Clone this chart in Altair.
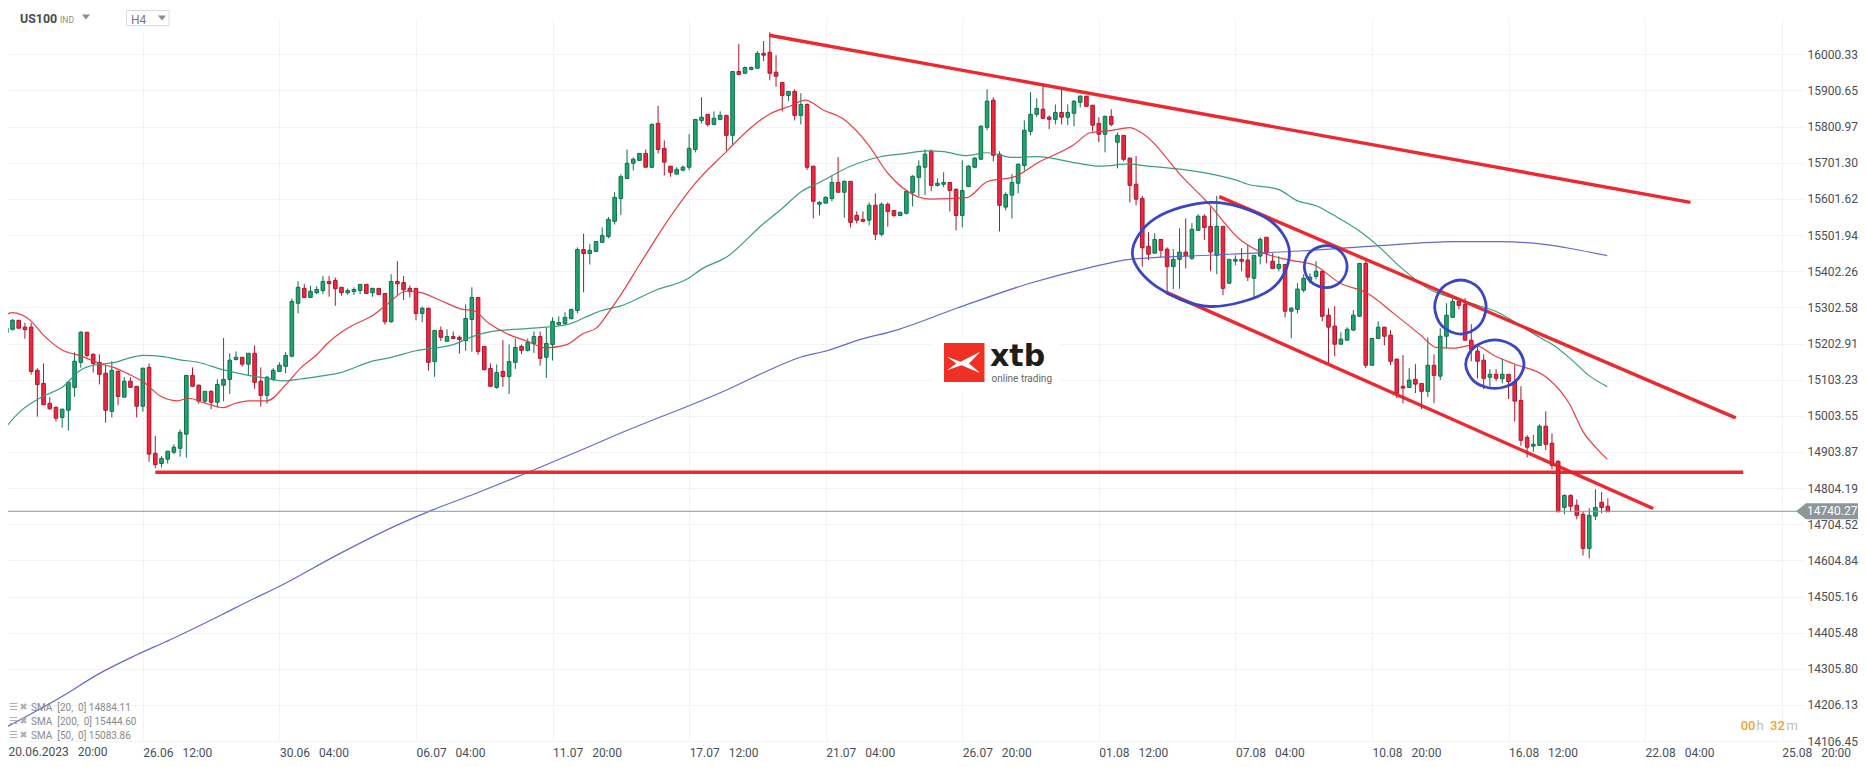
import altair as alt
import pandas as pd

direction = (
    "GGRRRRRRRG" "GGGRRRRGRG" "RRGRRGGGGG" "RRGRGGGGRG" "RRGGGGGGRG" "GGRRRGGGRG"
    "RRGRRRRGRG" "RGRRGGRRRG" "RGGRGGRGGG" "GGGRGGGGGG" "GGGRGRRRGG" "GGGRGGRGRG"
    "GGRRRRGRGR" "RGGGRGRRRG" "RGRRGGGGGR" "GGRRGGGGGR" "RGGGGGGRRG" "RGGGRRRGRG"
    "RRRRRGRRGG" "RGGRRGRGGR" "RGGRRGRGGG" "GGRRRGGGGR" "GGRRRRGRRG" "RGGGRRRRRG"
    "RGRRRRGGRR" "RGRRRGGRR"
)
high = [
15286,15270,15267,15260,15260,15135,15148,15055,15029,15022,
15096,15179,15237,15234,15176,15173,15143,15154,15129,15110,
15110,15085,15135,15148,14948,14892,14906,14925,14966,15115,
15137,15090,15071,15074,15104,15218,15176,15181,15165,15176,
15198,15137,15113,15135,15151,15179,15327,15375,15367,15362,
15361,15389,15389,15385,15358,15355,15358,15366,15366,15355,
15355,15341,15394,15430,15389,15363,15355,15305,15302,15239,
15250,15242,15236,15225,15311,15358,15330,15195,15148,15145,
15212,15200,15217,15200,15217,15236,15236,15247,15275,15278,
15289,15297,15468,15506,15477,15486,15523,15552,15620,15670,
15738,15716,15727,15738,15810,15858,15763,15692,15689,15694,
15780,15821,15882,15835,15843,15843,15832,15953,16029,15967,
15967,16009,16037,16061,15998,15923,15898,15904,15893,15865,
15692,15595,15609,15664,15717,15653,15650,15567,15567,15592,
15617,15592,15592,15570,15565,15625,15667,15708,15738,15738,
15658,15675,15647,15631,15708,15694,15717,15805,15904,15882,
15733,15620,15670,15700,15818,15896,15879,15920,15832,15862,
15909,15862,15874,15887,15885,15860,15827,15832,15849,15785,
15777,15716,15720,15610,15510,15507,15490,15468,15463,15521,
15548,15535,15559,15559,15579,15610,15526,15435,15446,15466,
15474,15446,15496,15496,15452,15444,15421,15303,15369,15394,
15397,15430,15406,15300,15306,15234,15248,15295,15424,15430,
15217,15264,15248,15240,15160,15171,15135,15146,15093,15220,
15173,15245,15314,15328,15328,15328,15256,15193,15173,15132,
15132,15162,15118,15144,15085,14950,14951,14980,15016,14955,
14881,14787,14787,14773,14740,14749,14801,14793,14776]
body_top = [
15245,15267,15267,15248,15248,15129,15093,15038,15027,15022,
15096,15154,15234,15234,15173,15151,15121,15129,15126,15099,
15099,15085,15135,15137,14900,14886,14906,14917,14958,15115,
15115,15088,15071,15071,15090,15104,15157,15165,15165,15176,
15176,15099,15110,15129,15143,15170,15319,15358,15355,15347,
15352,15374,15374,15377,15358,15349,15352,15366,15366,15355,
15355,15341,15374,15374,15371,15355,15355,15300,15300,15239,
15239,15222,15222,15220,15272,15330,15330,15195,15134,15123,
15126,15153,15192,15195,15206,15222,15222,15203,15264,15261,
15275,15297,15462,15462,15460,15484,15501,15545,15606,15663,
15700,15711,15727,15727,15807,15810,15741,15692,15683,15689,
15741,15821,15827,15835,15824,15832,15832,15953,15953,15964,
15964,16003,16003,16006,15951,15923,15898,15898,15862,15862,
15692,15592,15606,15647,15647,15650,15650,15556,15545,15584,
15584,15587,15587,15570,15565,15623,15664,15692,15725,15733,
15645,15647,15647,15628,15625,15692,15714,15802,15871,15874,
15725,15614,15647,15697,15791,15835,15851,15849,15827,15840,
15840,15840,15871,15885,15885,15860,15810,15829,15829,15777,
15777,15714,15642,15603,15471,15490,15490,15463,15435,15455,
15455,15518,15554,15554,15526,15526,15526,15435,15435,15435,
15433,15446,15490,15496,15430,15421,15421,15300,15353,15383,
15386,15402,15402,15281,15251,15215,15242,15281,15424,15424,
15217,15248,15248,15226,15160,15085,15102,15104,15093,15143,
15143,15223,15281,15319,15319,15311,15212,15182,15157,15118,
15118,15118,15118,15098,15046,14944,14925,14975,14975,14928,
14878,14784,14784,14757,14732,14729,14751,14765,14754]
body_bottom = [
15233,15242,15245,15241,15126,15090,15034,15023,14997,14999,
15019,15082,15151,15170,15148,15118,15019,15016,15057,15055,
15082,15030,15030,14898,14869,14872,14884,14903,14914,14953,
15085,15044,15044,15041,15041,15088,15104,15159,15146,15146,
15096,15060,15060,15104,15126,15140,15168,15314,15330,15330,
15343,15349,15368,15354,15343,15343,15346,15349,15341,15343,
15338,15263,15263,15368,15351,15346,15286,15286,15151,15153,
15220,15209,15217,15214,15211,15269,15181,15131,15085,15082,
15112,15112,15151,15184,15184,15203,15162,15165,15200,15255,
15258,15272,15294,15451,15451,15457,15482,15498,15540,15603,
15658,15700,15708,15689,15689,15738,15703,15675,15670,15681,
15689,15738,15818,15807,15807,15821,15777,15777,15945,15948,
15959,15962,15998,15948,15940,15887,15887,15832,15832,15689,
15595,15587,15590,15603,15620,15620,15537,15543,15540,15543,
15504,15504,15567,15556,15556,15562,15620,15661,15689,15639,
15639,15642,15625,15556,15556,15636,15689,15711,15799,15722,
15584,15579,15612,15645,15694,15788,15835,15824,15821,15821,
15827,15827,15838,15868,15857,15805,15780,15780,15807,15758,
15711,15639,15601,15467,15449,15452,15460,15415,15415,15435,
15446,15438,15515,15523,15455,15446,15355,15369,15430,15430,
15386,15383,15444,15452,15410,15410,15292,15292,15297,15350,
15377,15388,15278,15248,15201,15201,15212,15240,15278,15143,
15143,15217,15223,15154,15066,15080,15082,15091,15071,15071,
15115,15113,15223,15275,15308,15212,15187,15154,15107,15110,
15107,15106,15098,15044,14936,14917,14920,14922,14925,14867,
14739,14751,14754,14729,14638,14638,14727,14751,14739]
low = [
15231,15239,15245,15216,15117,15001,15033,15020,14988,14971,
14963,15056,15136,15165,15123,15090,14985,14999,15033,15055,
15082,14999,15015,14877,14859,14861,14872,14898,14891,14888,
15085,15037,15040,15022,15027,15044,15064,15156,15139,15115,
15078,15029,15037,15099,15126,15121,15165,15286,15330,15329,
15339,15339,15332,15307,15335,15337,15337,15339,15341,15332,
15338,15255,15260,15337,15323,15330,15267,15262,15128,15111,
15210,15209,15216,15175,15183,15180,15172,15128,15084,15078,
15084,15064,15133,15174,15181,15177,15142,15108,15156,15253,
15255,15269,15286,15344,15421,15457,15481,15493,15531,15557,
15658,15680,15708,15689,15686,15727,15666,15663,15670,15678,
15681,15730,15810,15801,15806,15821,15735,15752,15945,15948,
15956,15962,15981,15929,15911,15843,15872,15818,15807,15681,
15548,15556,15590,15595,15620,15550,15523,15534,15537,15529,
15488,15499,15525,15551,15554,15559,15581,15609,15612,15623,
15636,15634,15567,15515,15523,15634,15686,15711,15791,15705,
15512,15570,15548,15617,15680,15777,15828,15821,15794,15807,
15807,15805,15802,15854,15857,15788,15758,15730,15802,15686,
15705,15592,15584,15415,15433,15452,15440,15346,15353,15354,
15410,15433,15515,15488,15402,15394,15336,15369,15419,15402,
15375,15332,15421,15424,15408,15402,15275,15217,15286,15344,
15369,15380,15264,15149,15168,15201,15212,15237,15278,15135,
15143,15217,15198,15143,15052,15038,15080,15066,15022,15055,
15038,15102,15190,15275,15297,15212,15154,15107,15077,15084,
15099,15093,15050,14988,14921,14889,14904,14922,14909,14856,
14739,14732,14739,14718,14618,14610,14716,14735,14739]

sma20_bar = [0,1,3.9,6,9,12,15,17.3,20,22,24.8,27.5,29.4,31.8,35,36.6,39,42,45.2,47.4,50,51.6,54.3,57,58.8,61.2,64.4,66.6,69.8,73.5,75.2,77.8,80.5,83.8,87,90.2,93,95.1,97.2,98.9,102,105.9,111,116,119.8,123,126.3,128.7,131.6,134.9,138.9,141.8,144.5,148.8,154.7,158,162.5,166,171.9,174.6,177.8,181,182.6,189.9,193.4,198.8,202,206.8,210.6,214.9,219.2,223.5,227.8,230.4,233.1,236.4,240,242.8,248.1,251.9,254,256.2,257.9]
sma20_val = [15283,15288,15266,15226,15185,15169,15148,15137,15116,15098,15058,15045,15052,15040,15026,15036,15045,15045,15093,15135,15172,15201,15238,15263,15278,15309,15347,15344,15323,15297,15294,15258,15231,15210,15191,15199,15231,15246,15293,15335,15420,15525,15645,15732,15796,15836,15858,15874,15847,15821,15750,15677,15631,15601,15605,15649,15663,15700,15750,15784,15790,15798,15787,15654,15594,15489,15456,15433,15420,15369,15342,15286,15227,15192,15190,15199,15167,15147,15110,15034,14960,14914,14884]
sma50_bar = [0,2.2,6,9,12,14.3,17.3,20,22,25.3,28,30.7,35,39,42,44.7,47.4,50.6,53.7,59.1,61.8,66,72,75.8,77.9,85.4,90.3,93.5,95.6,98.9,104.8,109.6,112,116.1,122,124.7,128.1,131,135.9,140.8,144.5,148.3,151,154.7,158,162.2,166,173,176.2,181,182.6,198,200,204.9,207.9,211.1,213.8,218.1,220.8,224.5,229.4,233.1,236.9,240,243.3,247,249.2,251.9,255.1,257.9]
sma50_val = [14974,15015,15058,15082,15130,15144,15150,15164,15170,15167,15158,15152,15130,15115,15107,15100,15105,15113,15122,15155,15164,15183,15200,15226,15235,15246,15255,15277,15292,15306,15351,15380,15408,15442,15534,15571,15622,15647,15691,15718,15726,15734,15732,15721,15729,15716,15718,15699,15692,15698,15695,15654,15642,15628,15597,15582,15557,15512,15475,15415,15351,15328,15309,15291,15259,15220,15199,15162,15113,15084]
sma200_bar = [0,8.9,14.9,20.7,26.4,34.7,39.1,44.2,53.1,62.7,68.4,75.4,83.7,93.3,98.7,116.3,122.3,127.9,132.2,137,143.4,153.1,164.9,174,181,194.5,208.4,221.3,233.1,240.6,248.4,252,257.9]
sma200_val = [14145,14229,14292,14342,14386,14455,14493,14535,14618,14700,14742,14788,14845,14914,14954,15077,15125,15165,15183,15211,15240,15300,15369,15410,15435,15447,15458,15473,15484,15484,15475,15465,15445]

trend_lines = {
    "top": ([122.9, 271.3], [16053, 15592]),
    "support": ([24.0, 279.8], [14848, 14848]),
    "channel_low": ([186.9, 265.3], [15344, 14748]),
    "channel_high": ([195.4, 278.6], [15608, 14998]),
}
ellipses = {
    "a": ([194.2,203.05,206.7,203.6,193.9,185.3,181.4,185.1], [15592,15548,15456,15351,15305,15360,15452,15548]),
    "b": ([212.6,215,216,215,212.6,210.1,209.1,210.1], [15473,15456,15415,15374,15357,15374,15415,15456]),
    "c": ([234.3,237.2,238.4,237.2,234.3,231.3,230.1,231.3], [15378,15356,15304,15251,15229,15251,15304,15356]),
    "d": ([239.8,243.1,244.5,243.1,239.8,236.5,235.1,236.5], [15213,15193,15146,15098,15079,15098,15146,15193]),
}
y_ticks = [16000.33,15900.65,15800.97,15701.30,15601.62,15501.94,15402.26,15302.58,15202.91,15103.23,
           15003.55,14903.87,14804.19,14704.52,14604.84,14505.16,14405.48,14305.80,14206.13,14106.45]
nb = "\u00a0"
x_labels = ["20.06.2023","26.06","30.06","06.07","11.07","17.07","21.07","26.07","01.08","07.08","10.08","16.08","22.08","25.08"]
x_times = ["20:00","12:00","04:00","04:00","20:00","12:00","04:00","20:00","12:00","04:00","20:00","12:00","04:00","20:00"]
x_bars = [22 * k for k in range(14)]
last_price = 14740.27
legend_rows = [("SMA  [20,  0] 14884.11", 707.5), ("SMA  [200,  0] 15444.60", 722), ("SMA  [50,  0] 15083.86", 735.5)]

GREEN, GREEN_D = "#1fa56f", "#0f6e4a"
RED, RED_D = "#f0263f", "#a8182c"
FONT = "Roboto"

candles = pd.DataFrame({"i": range(len(high)), "high": high, "low": low, "top": body_top,
                        "bottom": body_bottom, "d": list(direction)})
xs = alt.Scale(domain=[0.274, 289.6], nice=False, zero=False, padding=0)
ys = alt.Scale(domain=[14104.1, 16100.5], nice=False, zero=False, padding=0)

lab_list = "[''," + ",".join("'" + a + nb * 3 + b + "'" for a, b in list(zip(x_labels, x_times))[1:]) + "]"
XAX = alt.Axis(values=x_bars, labelExpr=lab_list + "[round(datum.value/22)]", grid=True, gridColor="#f2f3f4",
               domain=False, ticks=False, labelAlign="left", labelBaseline="top", labelPadding=5, labelFont=FONT,
               labelFontSize=12, labelColor="#4a4f55", labelBound=False, labelFlush=False, labelOverlap=False, title=None)
YAX = alt.Axis(orient="right", values=y_ticks, format=".2f", grid=True, gridColor="#f2f3f4", domain=False, ticks=False,
               labelPadding=3, labelFont=FONT, labelFontSize=12, labelColor="#4a4f55", labelBound=False,
               labelFlush=False, labelOverlap=False, title=None)
X = alt.X("i:Q", scale=xs, axis=XAX)
Y = alt.Y("p:Q", scale=ys, axis=YAX)


def pt(x, y):
    return {"x": alt.value(x - 8), "y": alt.value(y - 18)}


def text(t, x, y, **kw):
    opts = dict(align="left", baseline="middle", font=FONT)
    opts.update(kw)
    return alt.Chart(alt.Data(values=[{"k": 1}])).mark_text(text=t, **opts).encode(**pt(x, y))


def box(x0, y0, x1, y1, **kw):
    return alt.Chart(alt.Data(values=[{"k": 1}])).mark_rect(**kw).encode(
        x=alt.value(x0 - 8), x2=alt.value(x1 - 8), y=alt.value(y0 - 18), y2=alt.value(y1 - 18))


def shape(path, x, y, size, color):
    return alt.Chart(alt.Data(values=[{"k": 1}])).mark_point(
        shape=path, filled=True, size=size, color=color, opacity=1, strokeWidth=0).encode(**pt(x, y))


wicks = alt.Chart(candles).mark_rule(strokeWidth=1).encode(
    x=X, y=alt.Y("high:Q", scale=ys, axis=YAX), y2="low:Q",
    color=alt.Color("d:N", scale=alt.Scale(domain=["G", "R"], range=[GREEN_D, RED_D]), legend=None))
bodies = alt.Chart(candles).mark_bar(size=3.6, strokeWidth=1, orient="vertical").encode(
    x=X, y=alt.Y("top:Q", scale=ys, axis=YAX), y2="bottom:Q",
    fill=alt.Fill("d:N", scale=alt.Scale(domain=["G", "R"], range=[GREEN, RED]), legend=None),
    stroke=alt.Stroke("d:N", scale=alt.Scale(domain=["G", "R"], range=[GREEN_D, RED_D]), legend=None))


def series(bars, vals, color, width=1.2, interp="monotone"):
    return alt.Chart(pd.DataFrame({"i": bars, "p": vals, "o": range(len(bars))})).mark_line(
        color=color, strokeWidth=width, opacity=0.95, interpolate=interp).encode(x=X, y=Y, order="o:Q")


layers = [wicks, bodies,
          series(sma200_bar, sma200_val, "#5a62cb"),
          series(sma50_bar, sma50_val, "#2f9a78"),
          series(sma20_bar, sma20_val, "#e8343a")]
layers.append(alt.Chart(alt.Data(values=[{"k": 1}])).mark_rule(color="#8a979f", strokeWidth=1).encode(
    x=alt.value(0), x2=alt.value(1790), y=alt.Y(datum=last_price, scale=ys, axis=YAX)))
for bars, vals in trend_lines.values():
    layers.append(series(bars, vals, "#ec1c24", 3.4, "linear"))
for bars, vals in ellipses.values():
    layers.append(alt.Chart(pd.DataFrame({"i": bars, "p": vals, "o": range(len(bars))})).mark_line(
        color="#3a45c6", strokeWidth=2.8, interpolate="cardinal-closed").encode(x=X, y=Y, order="o:Q"))

layers += [
    box(932, 335, 1060, 392, color="white"),
    box(944, 343, 984.5, 382, color="#ee3124"),
    shape("M-1,-0.35 L-0.2,-0.05 L0.95,-0.65 L0.3,0.05 L0.95,0.6 L-0.15,0.15 L-1,0.45 L-0.45,0.05 Z", 964, 362.7, 1156, "white"),
    text("xtb", 990, 357, font="DejaVu Sans", fontWeight="bold", fontSize=30, color="#1d1d1b"),
    text("online trading", 991.5, 378.5, fontSize=10, color="#666666"),
]
layers += [
    box(120, 8, 175, 32, color="white"),
    text("US100", 20, 19, fontWeight="bold", fontSize=12.4, color="#454a50"),
    text("IND", 60, 19.5, fontSize=8.5, color="#8c8c8c"),
    shape("M-1,-0.6 L1,-0.6 L0,0.6 Z", 86, 17, 64, "#8c8c8c"),
    box(126.5, 10.5, 169, 25.5, fill="white", stroke="#dcdcdc", strokeWidth=1),
    text("H4", 131, 20, fontSize=12, color="#7a7a7a"),
    shape("M-1,-0.6 L1,-0.6 L0,0.6 Z", 162, 18, 64, "#8c8c8c"),
]
layers.append(text(x_labels[0] + nb * 3 + x_times[0], 8.5, 752, fontSize=12, color="#4a4f55"))
for t, yy in legend_rows:
    layers += [
        text("\u2630", 9, yy - 1, font="DejaVu Sans", fontSize=10, color="#b0b0b0"),
        text("\u2716", 19.5, yy - 1, font="DejaVu Sans", fontSize=9.5, color="#b0b0b0"),
        text(t.replace(" ", nb), 31, yy, fontSize=10, color="#8a8a8a"),
    ]
layers += [
    text("00", 1740.7, 726, fontSize=13, fontWeight=500, color="#f5a32c"),
    text("h", 1756.5, 726, fontSize=13, color="#bdbdbd"),
    text("32", 1770, 726, fontSize=13, fontWeight=500, color="#f5a32c"),
    text("m", 1786.5, 726, fontSize=13, color="#bdbdbd"),
]
layers += [
    alt.Chart(alt.Data(values=[{"k": 1}])).mark_point(
        shape="M-1,0 L-0.714,-0.229 L1,-0.229 L1,0.229 L-0.714,0.229 Z", filled=True, size=4900,
        color="#8d9699", opacity=1, strokeWidth=0).encode(
        x=alt.value(1831 - 8), y=alt.Y(datum=last_price, scale=ys, axis=YAX)),
    alt.Chart(alt.Data(values=[{"k": 1}])).mark_text(
        text=f"{last_price:.2f}", align="left", baseline="middle", font=FONT, fontSize=12, color="white").encode(
        x=alt.value(1807 - 8), y=alt.Y(datum=last_price, scale=ys, axis=YAX)),
]

chart = alt.layer(*layers).resolve_scale(color="independent", fill="independent", stroke="independent").properties(
    width=1796, height=724, padding={"left": 0, "top": 10, "right": 54, "bottom": 20},
    autosize=alt.AutoSizeParams(type="none"), background="white",
).configure_view(stroke=None)
chart.save("out.html", embed_options={"renderer": "svg", "actions": False})
